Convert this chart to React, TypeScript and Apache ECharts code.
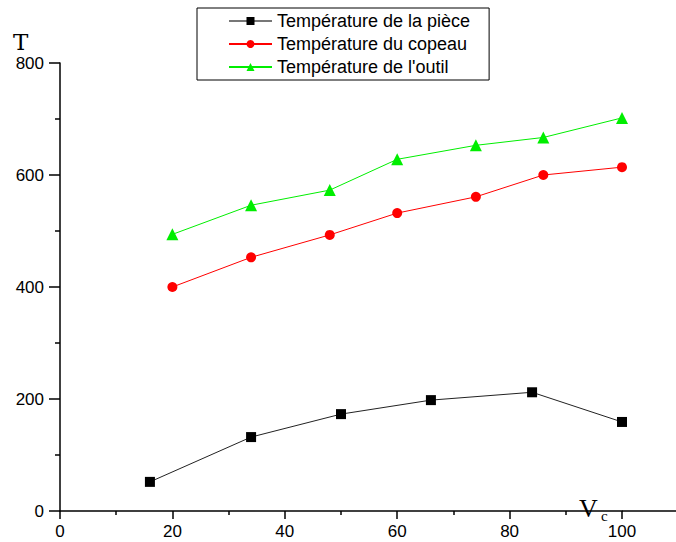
import React, { useEffect, useRef } from "react";
import * as echarts from "echarts";

const pieceX = [16, 34, 50, 66, 84, 100];
const pieceY = [52, 132, 173, 198, 212, 159];
const copeauX = [20, 34, 48, 60, 74, 86, 100];
const copeauY = [400, 453, 493, 532, 561, 600, 614];
const outilX = [20, 34, 48, 60, 74, 86, 100];
const outilY = [494, 546, 573, 628, 653, 667, 702];
const seriesNames = ["Température de la pièce", "Température du copeau", "Température de l'outil"];

const zip = (xs: number[], ys: number[]) => xs.map((x, i) => [x, ys[i]]);

export default function App() {
  const ref = useRef<HTMLDivElement>(null);
  useEffect(() => {
    document.body.style.margin = "0";
    const chart = echarts.init(ref.current!, null, { renderer: "svg" });
    const font = "'Liberation Sans', Arial, sans-serif";
    chart.setOption({
      animation: false,
      backgroundColor: "#fff",
      textStyle: { fontFamily: font },
      grid: { left: 60, right: 54, top: 63, bottom: 31, containLabel: false },
      legend: {
        orient: "vertical",
        left: 197,
        top: 8,
        padding: [4, 19, 4, 31],
        borderColor: "#000",
        borderWidth: 1,
        itemWidth: 43,
        itemHeight: 10,
        itemGap: 5,
        itemTextGap: 8,
        itemStyle: { borderWidth: 0 },
        textStyle: { fontSize: 18, color: "#000", fontFamily: font, lineHeight: 18 },
        data: [
          { name: seriesNames[0], lineStyle: { color: "#777" } },
          { name: seriesNames[1] },
          { name: seriesNames[2] },
        ],
      },
      xAxis: {
        type: "value",
        min: 0,
        max: 100,
        interval: 20,
        splitLine: { show: false },
        axisLine: { lineStyle: { color: "#000", width: 1.5 } },
        axisTick: { show: true, length: 8, lineStyle: { color: "#000", width: 1.5 } },
        minorTick: { show: true, splitNumber: 2, length: 4, lineStyle: { color: "#000", width: 1.5 } },
        axisLabel: { fontSize: 17, color: "#000", margin: 12, fontFamily: font },
      },
      yAxis: {
        type: "value",
        min: 0,
        max: 800,
        interval: 200,
        splitLine: { show: false },
        axisLine: { show: true, lineStyle: { color: "#000", width: 1.5 } },
        axisTick: { show: true, length: 11, lineStyle: { color: "#000", width: 1.5 } },
        minorTick: { show: true, splitNumber: 2, length: 5, lineStyle: { color: "#000", width: 1.5 } },
        axisLabel: { fontSize: 17, color: "#000", margin: 16, fontFamily: font },
      },
      graphic: [
        { type: "line", shape: { x1: 622, y1: 511, x2: 676, y2: 511 }, style: { stroke: "#000", lineWidth: 1.5 } },
        { type: "text", left: 13, top: 30, style: { text: "T", font: "23px 'DejaVu Serif', 'Liberation Serif', serif", fill: "#000" } },
        { type: "text", left: 579, top: 495, style: { text: "V", font: "26px 'Liberation Serif', serif", fill: "#000" } },
        { type: "text", left: 601, top: 508, style: { text: "c", font: "15px 'Liberation Serif', serif", fill: "#000" } },
      ],
      series: [
        {
          name: seriesNames[0],
          type: "line",
          data: zip(pieceX, pieceY),
          symbol: "rect",
          symbolSize: 10,
          color: "#000",
          lineStyle: { color: "#222", width: 1 },
          itemStyle: { color: "#000" },
        },
        {
          name: seriesNames[1],
          type: "line",
          data: zip(copeauX, copeauY),
          symbol: "circle",
          symbolSize: 10,
          color: "#ff0000",
          lineStyle: { color: "#ff0000", width: 1 },
          itemStyle: { color: "#ff0000" },
        },
        {
          name: seriesNames[2],
          type: "line",
          data: zip(outilX, outilY),
          symbol: "triangle",
          symbolSize: 12,
          color: "#00ee00",
          lineStyle: { color: "#00ee00", width: 1 },
          itemStyle: { color: "#00ee00" },
        },
      ],
    });
    return () => chart.dispose();
  }, []);
  return <div ref={ref} style={{ width: 676, height: 542 }} />;
}
